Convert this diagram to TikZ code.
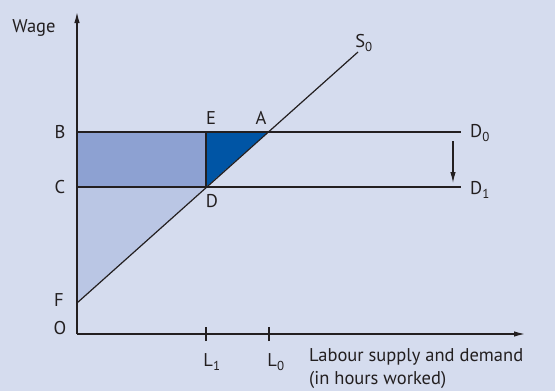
\documentclass[tikz,border=0pt]{standalone}
\usepackage{fontspec}
\setmainfont{PT Sans}
\usetikzlibrary{arrows.meta}

\definecolor{bgcol}{HTML}{D5DCEE}
\definecolor{inkcol}{HTML}{231F20}
\definecolor{midblue}{HTML}{8DA1D2}
\definecolor{darkblue}{HTML}{0055A5}
\definecolor{lightblue}{HTML}{BAC6E4}

\begin{document}
\begin{tikzpicture}[
    x=1pt, y=-1pt, >={Latex[length=11pt,width=5.5pt]},
    font=\fontsize{18.5}{20}\selectfont, color=inkcol,
    axis/.style ={draw=inkcol, line width=1.3pt},
    curve/.style={draw=inkcol, line width=1.2pt},
    lbl/.style  ={inner sep=1pt, text=inkcol},
  ]
  \useasboundingbox[fill=bgcol] (0,0) rectangle (555,391);

  % --- points ---
  \coordinate (O)  at (77,334);
  \coordinate (Yt) at (77,12);
  \coordinate (Xt) at (525,334);
  \coordinate (B)  at (77,132);
  \coordinate (C)  at (77,187);
  \coordinate (F)  at (77,303);
  \coordinate (E)  at (206,132);
  \coordinate (A)  at (268,132);
  \coordinate (D)  at (206,187);
  \coordinate (Se) at (358,52);
  \coordinate (D0e) at (461,132);
  \coordinate (D1e) at (461,187);
  \coordinate (sh0) at (453,141);
  \coordinate (sh1) at (453,183);
  \coordinate (L1) at (206,334);
  \coordinate (L0) at (269,334);

  % --- areas ---
  \fill[lightblue] (C) -- (D) -- (F) -- cycle;
  \fill[midblue] (B) rectangle (D);
  \fill[darkblue] (E) -- (A) -- (D) -- cycle;

  % --- curves ---
  \draw[curve] (B) -- (D0e);
  \draw[curve] (C) -- (D1e);
  \draw[curve] (E) -- (D);
  \draw[curve] (F) -- (Se);
  \draw[curve, ->] (sh0) -- (sh1);

  % --- axes ---
  \draw[axis, ->] (O) -- (Yt);
  \draw[axis, ->] (O) -- (Xt);
  \draw[axis] ([yshift=-7pt]L1) -- ([yshift=7pt]L1);
  \draw[axis] ([yshift=-7pt]L0) -- ([yshift=7pt]L0);

  % --- labels ---
  \node[lbl] (wage) at (34,28) {Wage};
  \node[lbl] (s0)   at (364,43) {S\textsubscript{0}};
  \node[lbl] (lB)   at (60,132) {B};
  \node[lbl] (lC)   at (60,187) {C};
  \node[lbl] (lF)   at (59,300) {F};
  \node[lbl] (lO)   at (60,328) {O};
  \node[lbl] (lE)   at (211,118) {E};
  \node[lbl] (lA)   at (261,118) {A};
  \node[lbl] (lD)   at (212,201) {D};
  \node[lbl] (d0)   at (480,133) {D\textsubscript{0}};
  \node[lbl] (d1)   at (480,190) {D\textsubscript{1}};
  \node[lbl] (l1)   at (212,362) {L\textsubscript{1}};
  \node[lbl] (l0)   at (276,362) {L\textsubscript{0}};
  \node[lbl, anchor=west, align=left, font=\fontsize{18.5}{23}\selectfont]
    (xlab) at (308,369) {Labour supply and demand\\(in hours worked)};
\end{tikzpicture}
\end{document}
